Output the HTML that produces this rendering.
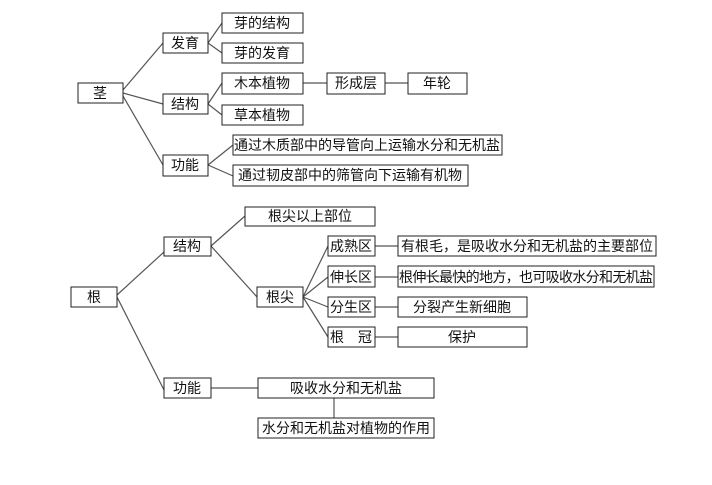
<!DOCTYPE html>
<html><head><meta charset="utf-8"><style>
body{margin:0;background:#fff;width:712px;height:480px;overflow:hidden}
svg text{font-family:"Liberation Sans","Noto Sans CJK SC",sans-serif;font-size:14px;fill:#111;text-anchor:middle;dominant-baseline:central}
rect{fill:#fff;stroke:#222;stroke-width:1}
line{stroke:#555;stroke-width:1.2}
</style></head><body>
<svg width="712" height="480" xmlns="http://www.w3.org/2000/svg">
<!-- top lines -->
<line x1="123" y1="90" x2="163" y2="43"/>
<line x1="123" y1="93" x2="163" y2="104"/>
<line x1="123" y1="96" x2="163" y2="165"/>
<line x1="208" y1="43" x2="222" y2="23"/>
<line x1="208" y1="43" x2="222" y2="53"/>
<line x1="208" y1="104" x2="222" y2="83"/>
<line x1="208" y1="104" x2="222" y2="115"/>
<line x1="208" y1="165" x2="233" y2="145"/>
<line x1="208" y1="165" x2="233" y2="176"/>
<line x1="303" y1="83" x2="327" y2="83"/>
<line x1="385" y1="83" x2="408" y2="83"/>
<rect x="78" y="83" width="45" height="20"/><text x="100" y="93">茎</text>
<rect x="163" y="33" width="45" height="20"/><text x="185" y="43">发育</text>
<rect x="163" y="94" width="45" height="20"/><text x="185" y="104">结构</text>
<rect x="163" y="155" width="45" height="21"/><text x="185" y="165">功能</text>
<rect x="222" y="13" width="81" height="20"/><text x="262" y="23">芽的结构</text>
<rect x="222" y="43" width="81" height="20"/><text x="262" y="53">芽的发育</text>
<rect x="222" y="73" width="81" height="21"/><text x="262" y="83">木本植物</text>
<rect x="222" y="105" width="81" height="20"/><text x="262" y="115">草本植物</text>
<rect x="327" y="73" width="58" height="21"/><text x="356" y="83">形成层</text>
<rect x="408" y="73" width="59" height="21"/><text x="437" y="83">年轮</text>
<rect x="233" y="135" width="269" height="20"/><text x="367" y="145">通过木质部中的导管向上运输水分和无机盐</text>
<rect x="233" y="165" width="235" height="21"/><text x="350" y="175">通过韧皮部中的筛管向下运输有机物</text>
<!-- bottom lines -->
<line x1="117" y1="295" x2="164" y2="252"/>
<line x1="117" y1="297" x2="164" y2="390"/>
<line x1="211" y1="246" x2="245" y2="216"/>
<line x1="211" y1="246" x2="257" y2="297"/>
<line x1="303" y1="297" x2="328" y2="246"/>
<line x1="303" y1="297" x2="328" y2="277"/>
<line x1="303" y1="297" x2="328" y2="307"/>
<line x1="303" y1="297" x2="328" y2="337"/>
<line x1="375" y1="246" x2="398" y2="246"/>
<line x1="375" y1="277" x2="398" y2="277"/>
<line x1="375" y1="307" x2="398" y2="307"/>
<line x1="375" y1="337" x2="398" y2="337"/>
<line x1="211" y1="388" x2="258" y2="388"/>
<line x1="334" y1="398" x2="334" y2="418"/>
<rect x="71" y="287" width="46" height="20"/><text x="94" y="297">根</text>
<rect x="164" y="237" width="47" height="19"/><text x="187" y="246">结构</text>
<rect x="164" y="378" width="47" height="20"/><text x="187" y="388">功能</text>
<rect x="245" y="207" width="130" height="19"/><text x="310" y="216">根尖以上部位</text>
<rect x="257" y="287" width="46" height="20"/><text x="280" y="297">根尖</text>
<rect x="328" y="236" width="47" height="20"/><text x="351" y="246">成熟区</text>
<rect x="328" y="266" width="47" height="21"/><text x="351" y="277">伸长区</text>
<rect x="328" y="297" width="47" height="20"/><text x="351" y="307">分生区</text>
<rect x="328" y="327" width="47" height="20"/><text x="351" y="337">根　冠</text>
<rect x="398" y="236" width="258" height="20"/><text x="527" y="246">有根毛，是吸收水分和无机盐的主要部位</text>
<rect x="398" y="266" width="256" height="21"/><text x="526" y="277" textLength="254">根伸长最快的地方，也可吸收水分和无机盐</text>
<rect x="398" y="297" width="129" height="20"/><text x="462" y="307">分裂产生新细胞</text>
<rect x="398" y="327" width="129" height="20"/><text x="462" y="337">保护</text>
<rect x="258" y="378" width="176" height="20"/><text x="346" y="388">吸收水分和无机盐</text>
<rect x="258" y="418" width="176" height="20"/><text x="346" y="428">水分和无机盐对植物的作用</text>
</svg>
</body></html>
